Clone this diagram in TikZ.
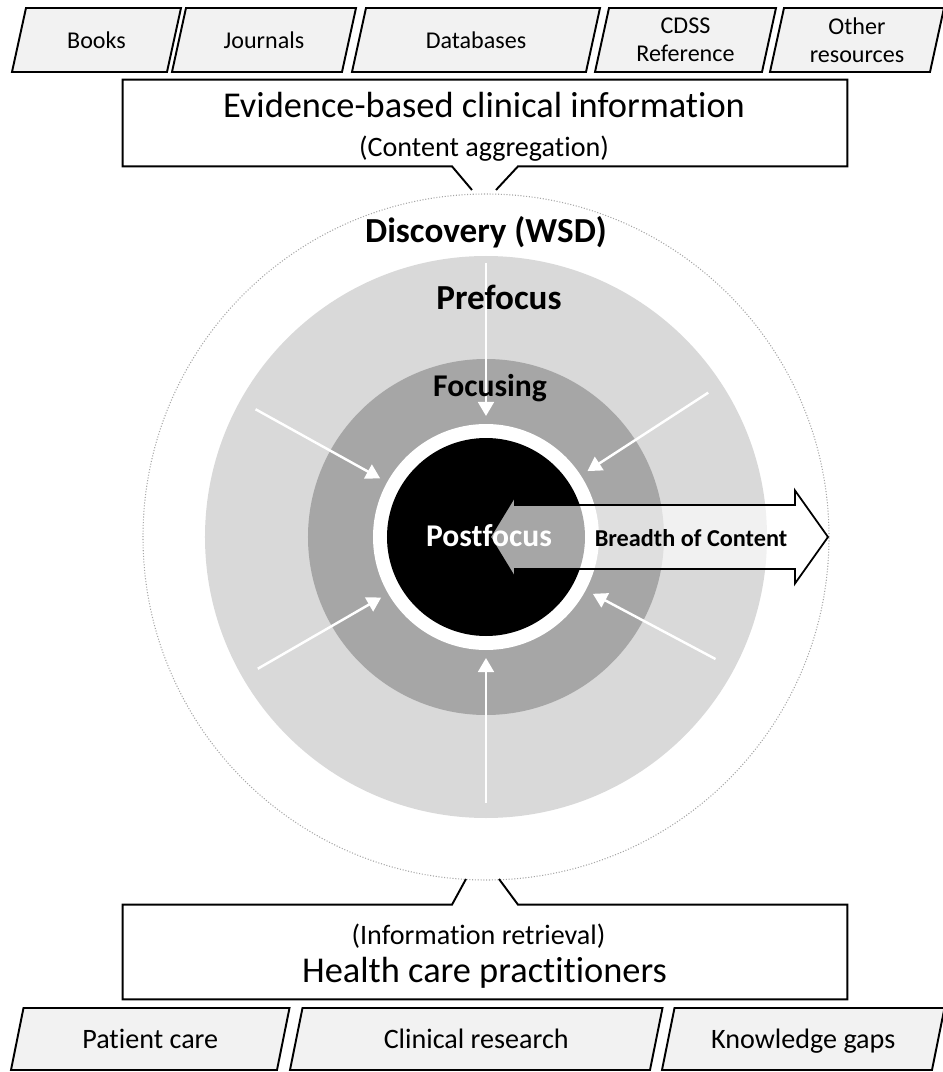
\documentclass[tikz,border=0pt]{standalone}
\usepackage{fontspec}
\setmainfont[Ligatures=NoCommon]{Carlito}
\usepackage{xcolor}
\usetikzlibrary{arrows.meta,calc}

\definecolor{ringlight}{HTML}{D9D9D9}
\definecolor{ringdark}{HTML}{A6A6A6}
\definecolor{boxfill}{HTML}{F2F2F2}

\tikzset{
  srcbox/.style={draw=black,line width=1.1pt,fill=boxfill,line join=miter},
  srctext/.style={align=center,inner sep=0pt,font=\fontsize{13.7}{16}\selectfont},
  usetext/.style={inner sep=0pt,text height=2.3ex,text depth=0.1ex,font=\fontsize{16}{19}\selectfont},
  callbox/.style={minimum width=14.48cm,inner sep=0pt},
  callline/.style={draw=black,line width=1.1pt,line join=miter},
  headtext/.style={inner sep=0pt,text height=2.3ex,text depth=0.1ex,font=\fontsize{20.7}{24}\selectfont},
  subtext/.style={inner sep=0pt,text height=2.3ex,text depth=0.1ex,font=\fontsize{16}{19}\selectfont},
  ringlabel/.style={inner sep=0pt,text height=2.3ex,text depth=0.1ex,font=\bfseries\fontsize{20}{24}\selectfont},
  inarrow/.style={white,line width=1.4pt,-{Triangle[length=8pt,width=9pt]}},
  breadth/.style={draw=black,line width=1pt,fill=white,fill opacity=0.65,line join=miter}
}

\begin{document}
\begin{tikzpicture}[>=Stealth]
\useasboundingbox (-9.72,-10.70) rectangle (9.14,10.74);
% the rings
\fill[ringlight] (0,0) circle (5.62);
\fill[ringdark] (0,0) circle (3.56);
\fill[white] (0,0) circle (2.26);
\fill[black] (0,0) circle (1.98);
\draw[black!35,densely dotted,line width=0.6pt] (0,0) circle (6.86);
\foreach \a/\r in {90/5.48,151/5.27,210/5.27,33/5.3,-28/5.2,270/5.32}
  \draw[inarrow] (\a:\r) -- (\a:2.42);
\node[ringlabel] (disc) at (0,6.08) {Discovery (WSD)};
\node[ringlabel] (pre) at (0.26,4.74) {Prefocus};
\node[ringlabel,font=\bfseries\fontsize{18}{22}\selectfont] (foc) at (0.08,3.0) {Focusing};
% breadth arrow
\filldraw[breadth] (0.08,0) -- (0.58,0.82) -- (0.58,0.64) -- (6.18,0.64) -- (6.18,0.93)
  -- (6.84,0) -- (6.18,-0.93) -- (6.18,-0.64) -- (0.58,-0.64) -- (0.58,-0.82) -- cycle;
\node[ringlabel,white,font=\bfseries\fontsize{18}{22}\selectfont] (post) at (0.06,0) {Postfocus};
\node[ringlabel,font=\bfseries\fontsize{13.8}{16}\selectfont] (breadthlab) at (4.1,0) {Breadth of Content};
% sources
\foreach \n/\xl/\xr/\txt in {books/-9.48/-6.38/Books, journals/-6.28/-2.88/Journals,
    dbs/-2.68/2.0/Databases, cdss/2.18/5.52/{CDSS\\Reference}, other/5.68/8.88/{Other\\resources}}{
  \draw[srcbox] (\xl,9.30) -- (\xr,9.30) -- (\xr+0.28,10.58) -- (\xl+0.28,10.58) -- cycle;
  \node[srctext] (\n) at ({(\xl+\xr)/2+0.14},9.94) {\txt};
}
% uses
\foreach \n/\xl/\xr/\txt in {patient/-9.5/-4.18/Patient care, clinical/-3.92/3.28/Clinical research,
    gaps/3.52/8.92/Knowledge gaps}{
  \draw[srcbox] (\xl,-10.66) -- (\xr,-10.66) -- (\xr+0.25,-9.42) -- (\xl+0.25,-9.42) -- cycle;
  \node[usetext] (\n) at ({(\xl+\xr)/2+0.125},-10.04) {\txt};
}
% callouts
\node[callbox,minimum height=1.72cm] (evid) at (-0.02,8.28) {};
\coordinate (toptip) at (-0.04,6.94);
\draw[callline] ($(toptip)+(-0.24,0)$) -- ($(evid.south)+(-0.66,0)$) -- (evid.south west)
  -- (evid.north west) -- (evid.north east) -- (evid.south east)
  -- ($(evid.south)+(0.66,0)$) -- ($(toptip)+(0.24,0)$);
\node[headtext] (evidtitle) at (-0.04,8.58) {Evidence-based clinical information};
\node[subtext] (evidsub) at (-0.04,7.8) {(Content aggregation)};
\node[callbox,minimum height=1.88cm] (hcp) at (-0.02,-8.3) {};
\coordinate (bottip) at (-0.07,-6.84);
\draw[callline] ($(bottip)+(-0.33,0)$) -- ($(hcp.north)+(-0.66,0)$) -- (hcp.north west)
  -- (hcp.south west) -- (hcp.south east) -- (hcp.north east)
  -- ($(hcp.north)+(0.66,0)$) -- ($(bottip)+(0.33,0)$);
\node[subtext] (hcpsub) at (-0.15,-7.96) {(Information retrieval)};
\node[headtext] (hcptitle) at (-0.03,-8.72) {Health care practitioners};
\end{tikzpicture}
\end{document}
